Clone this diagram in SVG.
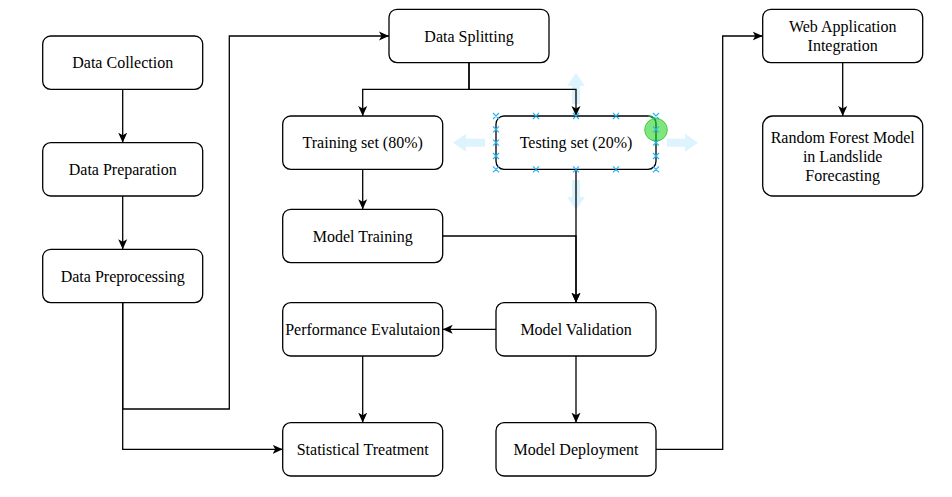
<svg xmlns="http://www.w3.org/2000/svg" width="952" height="497" viewBox="0 0 952 497">
<style>
.box{fill:#fff;stroke:#000;stroke-width:1.3}
.lbl{font-family:"Liberation Serif","Times New Roman",serif;font-size:16px;fill:#000;text-anchor:middle}
.edge{fill:none;stroke:#000;stroke-width:1.3}
.hx{stroke:#29b6f2;stroke-width:1.2;fill:none}
.ha{fill:#29b6f2;fill-opacity:0.16}
</style>
<defs>
<marker id="arr" viewBox="0 0 10 10" refX="10" refY="5" markerWidth="10" markerHeight="10" markerUnits="userSpaceOnUse" orient="auto">
<path d="M0,0.5 L10,5 L0,9.5 L2.5,5 Z" fill="#000"/>
</marker>
</defs>
<rect width="952" height="497" fill="#fff"/>

<g id="hover-arrows">
<path class="ha" d="M576,73 L585,86 L580,86 L580,104 L572,104 L572,86 L567,86 Z"/>
<path class="ha" d="M576,210 L585,197 L580,197 L580,180 L572,180 L572,197 L567,197 Z"/>
<path class="ha" d="M453,142.7 L466,133.7 L466,138.7 L485,138.7 L485,146.7 L466,146.7 L466,151.7 Z"/>
<path class="ha" d="M698,142.7 L685,133.7 L685,138.7 L667,138.7 L667,146.7 L685,146.7 L685,151.7 Z"/>
</g>

<g id="connectors">
<path class="edge" marker-end="url(#arr)" d="M122.7,89.3 V142.7"/>
<path class="edge" marker-end="url(#arr)" d="M122.7,196 V249.3"/>
<path class="edge" marker-end="url(#arr)" d="M122.7,302.7 V409 H229.3 V36 H389"/>
<path class="edge" marker-end="url(#arr)" d="M122.7,302.7 V449.3 H282.7"/>
<path class="edge" marker-end="url(#arr)" d="M469,62.7 V89.3 H362.7 V116"/>
<path class="edge" marker-end="url(#arr)" d="M469,62.7 V89.3 H576 V116"/>
<path class="edge" marker-end="url(#arr)" d="M362.7,169.3 V209.3"/>
<path class="edge" marker-end="url(#arr)" d="M442.7,236 H576 V302.7"/>
<path class="edge" marker-end="url(#arr)" d="M576,169.3 V302.7"/>
<path class="edge" marker-end="url(#arr)" d="M496,329.3 H442.7"/>
<path class="edge" marker-end="url(#arr)" d="M362.7,356 V422.7"/>
<path class="edge" marker-end="url(#arr)" d="M576,356 V422.7"/>
<path class="edge" marker-end="url(#arr)" d="M656,449.3 H722.7 V36 H762.7"/>
<path class="edge" marker-end="url(#arr)" d="M842.7,62.7 V116"/>
</g>

<g id="n-data-collection"><rect class="box" x="42.7" y="36" width="160" height="53.3" rx="8"/><text class="lbl" x="122.7" y="68.2">Data Collection</text></g>
<g id="n-data-preparation"><rect class="box" x="42.7" y="142.7" width="160" height="53.3" rx="8"/><text class="lbl" x="122.7" y="174.8">Data Preparation</text></g>
<g id="n-data-preprocessing"><rect class="box" x="42.7" y="249.3" width="160" height="53.3" rx="8"/><text class="lbl" x="122.7" y="281.5">Data Preprocessing</text></g>
<g id="n-data-splitting"><rect class="box" x="389" y="9.3" width="160" height="53.3" rx="8"/><text class="lbl" x="469" y="41.5">Data Splitting</text></g>
<g id="n-training-set"><rect class="box" x="282.7" y="116" width="160" height="53.3" rx="8"/><text class="lbl" x="362.7" y="148.2">Training set (80%)</text></g>
<g id="n-testing-set"><rect class="box" x="496" y="116" width="160" height="53.3" rx="8"/><text class="lbl" x="576" y="148.2">Testing set (20%)</text></g>
<g id="n-model-training"><rect class="box" x="282.7" y="209.3" width="160" height="53.3" rx="8"/><text class="lbl" x="362.7" y="241.5">Model Training</text></g>
<g id="n-performance-evaluation"><rect class="box" x="282.7" y="302.7" width="160" height="53.3" rx="8"/><text class="lbl" x="362.7" y="334.8">Performance Evalutaion</text></g>
<g id="n-model-validation"><rect class="box" x="496" y="302.7" width="160" height="53.3" rx="8"/><text class="lbl" x="576" y="334.8">Model Validation</text></g>
<g id="n-statistical-treatment"><rect class="box" x="282.7" y="422.7" width="160" height="53.3" rx="8"/><text class="lbl" x="362.7" y="454.8">Statistical Treatment</text></g>
<g id="n-model-deployment"><rect class="box" x="496" y="422.7" width="160" height="53.3" rx="8"/><text class="lbl" x="576" y="454.8">Model Deployment</text></g>
<g id="n-web-application"><rect class="box" x="762.7" y="9.3" width="160" height="53.3" rx="8"/><text class="lbl" x="842.7" y="32.2">Web Application</text><text class="lbl" x="842.7" y="51.2">Integration</text></g>
<g id="n-random-forest"><rect class="box" x="762.7" y="116" width="160" height="80" rx="10"/><text class="lbl" x="842.7" y="142.8">Random Forest Model</text><text class="lbl" x="842.7" y="161.8">in Landslide</text><text class="lbl" x="842.7" y="180.8">Forecasting</text></g>

<g id="selection-overlay">
<circle cx="656" cy="129.8" r="11.3" fill="#5fe05f" fill-opacity="0.8" stroke="#4c4" stroke-width="1"/>
<path d="M648,116 Q656,116 656,124 V145" stroke="#1a9a1a" stroke-width="1.5" fill="none"/>
<g class="hx">
<path d="M493,113 l6,6 m0,-6 l-6,6 M533,113 l6,6 m0,-6 l-6,6 M573,113 l6,6 m0,-6 l-6,6 M613,113 l6,6 m0,-6 l-6,6 M653,113 l6,6 m0,-6 l-6,6"/>
<path d="M493,166.3 l6,6 m0,-6 l-6,6 M533,166.3 l6,6 m0,-6 l-6,6 M573,166.3 l6,6 m0,-6 l-6,6 M613,166.3 l6,6 m0,-6 l-6,6 M653,166.3 l6,6 m0,-6 l-6,6"/>
<path d="M493,126.3 l6,6 m0,-6 l-6,6 M493,139.7 l6,6 m0,-6 l-6,6 M493,153 l6,6 m0,-6 l-6,6"/>
<path d="M653,126.3 l6,6 m0,-6 l-6,6 M653,139.7 l6,6 m0,-6 l-6,6 M653,153 l6,6 m0,-6 l-6,6"/>
</g>
</g>
</svg>
